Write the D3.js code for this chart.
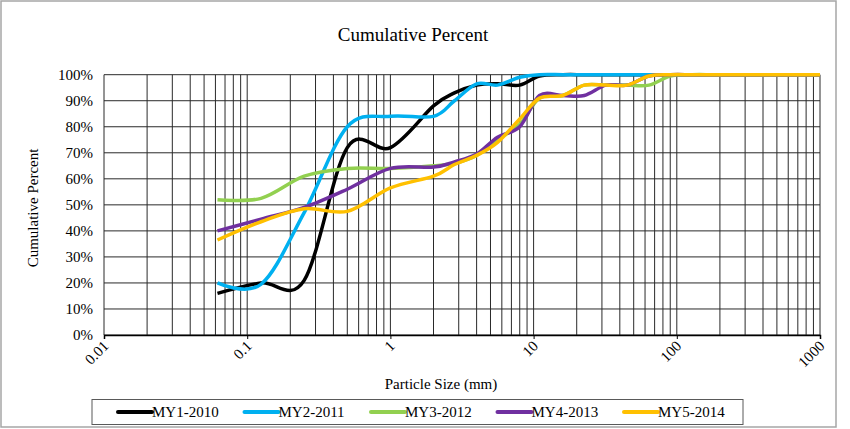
<!DOCTYPE html>
<html>
<head>
<meta charset="utf-8">
<script src="https://cdn.jsdelivr.net/npm/d3@7"></script>
<style>
  body { margin: 0; background: #fff; }
  svg { display: block; font-family: "Liberation Serif", "Times New Roman", serif; }
</style>
</head>
<body>
<svg width="850" height="429"></svg>
<script>
// particle sizes (mm) of the sieve classes
var sizes = [0.062, 0.125, 0.25, 0.5, 1, 2, 2.8, 4, 5.6, 8, 11, 16, 22.6, 32, 45, 64, 90, 128, 180, 256, 362, 512, 1024];

// cumulative percent per monitoring year
var my1 = [16, 20, 21, 72, 72, 88, 93, 96, 96.5, 96, 99.5, 100, 100, 100, 100, 100, 100, 100, 100, 100, 100, 100, 100];
var my2 = [20, 19.5, 47, 80, 84, 84, 90, 96.5, 96, 99, 100, 100, 100, 100, 100, 100, 100, 100, 100, 100, 100, 100, 100];
var my3 = [52, 52.5, 61, 64, 64, 65, 66, 69, 75, 81, 91, 92, 96, 96, 96, 96, 99.5, 100, 100, 100, 100, 100, 100];
var my4 = [40, 44.5, 49, 56, 64, 64.5, 66.5, 69.5, 76, 80, 92, 92, 92, 96, 96, 99.5, 100, 100, 100, 100, 100, 100, 100];
var my5 = [36.5, 43.5, 48.5, 47.5, 56.5, 61, 65.5, 69, 74, 83, 91, 92, 96, 96, 96, 99.5, 100, 100, 100, 100, 100, 100, 100];

var seriesNames = ["MY1-2010", "MY2-2011", "MY3-2012", "MY4-2013", "MY5-2014"];
var seriesColours = ["#000000", "#00b0f0", "#92d050", "#7030a0", "#ffc000"];
var seriesValues = [my1, my2, my3, my4, my5];

// axis ticks
var xTicks = [0.01, 0.1, 1, 10, 100, 1000];
var xTickLabels = ["0.01", "0.1", "1", "10", "100", "1000"];
var yTicks = [0, 10, 20, 30, 40, 50, 60, 70, 80, 90, 100];

var svg = d3.select("svg");

// outer frame
svg.append("rect")
	.attr("x", 1).attr("y", 1)
	.attr("width", 835).attr("height", 426)
	.attr("fill", "none")
	.attr("stroke", "#a6a6a6")
	.attr("stroke-width", 1.5);

var x = d3.scaleLog()
	.domain([0.01, 1000])
	.range([104, 820]);

var y = d3.scaleLinear()
	.domain([0, 100])
	.range([335, 74.7]);

// minor + major vertical gridlines (2..9 in each decade)
var vlines = [];
for (var d = -2; d < 3; d++) {
	for (var k = 1; k < 10; k++) {
		vlines.push(k * Math.pow(10, d));
	}
}
vlines.push(1000);

var grid = svg.append("g");

grid.selectAll("line.v")
	.data(vlines)
	.enter()
	.append("line")
		.attr("class", "v")
		.attr("x1", function(d) { return x(d); })
		.attr("x2", function(d) { return x(d); })
		.attr("y1", y(100))
		.attr("y2", y(0))
		.attr("stroke", "#2a2a2a")
		.attr("stroke-width", 1);

grid.selectAll("line.h")
	.data(yTicks)
	.enter()
	.append("line")
		.attr("class", "h")
		.attr("x1", x(0.01))
		.attr("x2", x(1000))
		.attr("y1", function(d) { return y(d); })
		.attr("y2", function(d) { return y(d); })
		.attr("stroke", "#2a2a2a")
		.attr("stroke-width", 1);

// y axis labels
var yAxis = d3.axisLeft(y)
	.tickValues(yTicks)
	.tickSize(0)
	.tickPadding(11)
	.tickFormat(function(d) { return d + "%"; });

svg.append("g")
	.attr("transform", "translate(" + x(0.01) + ",0)")
	.call(yAxis)
	.call(function(g) { g.select(".domain").remove(); })
	.selectAll("text")
		.style("font-size", "15px")
		.style("font-family", "Liberation Serif")
		.attr("fill", "#000");

// x axis
var xAxis = d3.axisBottom(x)
	.tickValues(xTicks)
	.tickSize(4)
	.tickFormat(function(d, i) { return xTickLabels[i]; });

var xg = svg.append("g")
	.attr("transform", "translate(0," + y(0) + ")")
	.call(xAxis);

xg.select(".domain")
	.attr("stroke", "#000")
	.attr("stroke-width", 1.5);

xg.selectAll(".tick line").attr("stroke", "#000");

xg.selectAll("text")
	.attr("y", 0)
	.attr("dy", 0)
	.attr("transform", "translate(5,12) rotate(-45)")
	.style("text-anchor", "end")
	.style("font-size", "15px")
	.style("font-family", "Liberation Serif")
	.attr("fill", "#000");

// series lines, smoothed like the original
svg.append("clipPath")
	.attr("id", "plotclip")
	.append("rect")
		.attr("x", x(0.01))
		.attr("y", y(100) - 3)
		.attr("width", x(1000) - x(0.01))
		.attr("height", y(0) - y(100) + 6);

var line = d3.line()
	.x(function(d, i) { return x(sizes[i]); })
	.y(function(d) { return y(d); })
	.curve(d3.curveCatmullRom.alpha(0));

svg.append("g")
	.attr("clip-path", "url(#plotclip)")
	.selectAll("path")
	.data(seriesValues)
	.enter()
	.append("path")
		.attr("d", line)
		.attr("fill", "none")
		.attr("stroke", function(d, i) { return seriesColours[i]; })
		.attr("stroke-width", 3.5)
		.attr("stroke-linejoin", "round");

// titles
svg.append("text")
	.attr("x", 413)
	.attr("y", 41)
	.attr("text-anchor", "middle")
	.style("font-size", "19px")
	.text("Cumulative Percent");

svg.append("text")
	.attr("transform", "translate(38,208) rotate(-90)")
	.attr("text-anchor", "middle")
	.style("font-size", "15px")
	.text("Cumulative Percent");

svg.append("text")
	.attr("x", 441)
	.attr("y", 389)
	.attr("text-anchor", "middle")
	.style("font-size", "15px")
	.text("Particle Size (mm)");

// legend
var legend = svg.append("g");

legend.append("rect")
	.attr("x", 92).attr("y", 399.5)
	.attr("width", 651).attr("height", 25)
	.attr("fill", "#fff")
	.attr("stroke", "#595959")
	.attr("stroke-width", 1);

var items = legend.selectAll("g.item")
	.data(seriesNames)
	.enter()
	.append("g")
		.attr("class", "item")
		.attr("transform", function(d, i) { return "translate(" + (118 + i * 126.5) + ",412)"; });

items.append("line")
	.attr("x1", 0).attr("x2", 34)
	.attr("stroke", function(d, i) { return seriesColours[i]; })
	.attr("stroke-width", 4)
	.attr("stroke-linecap", "round");

items.append("text")
	.attr("x", 34)
	.attr("y", 5)
	.style("font-size", "15px")
	.text(function(d) { return d; });
</script>
</body>
</html>
